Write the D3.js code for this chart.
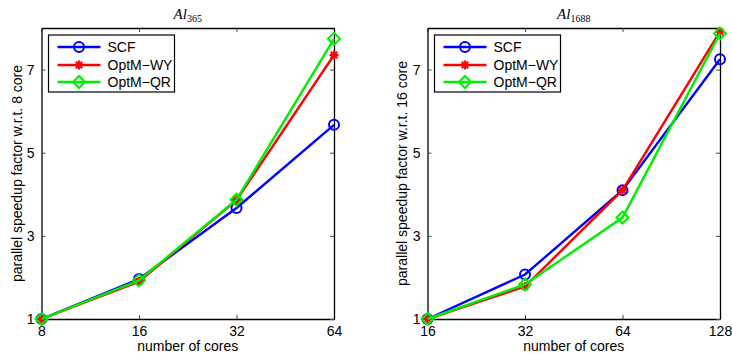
<!DOCTYPE html>
<html>
<head>
<meta charset="utf-8">
<script src="https://cdn.jsdelivr.net/npm/d3@7"></script>
<style>
  body { margin: 0; background: #fff; }
  svg text { font-family: "Liberation Sans", Arial, sans-serif; }
</style>
</head>
<body>
<div id="main"></div>
<script>
// data
var seriesNames = ["SCF", "OptM\u2212WY", "OptM\u2212QR"];
var seriesColors = ["#0000ff", "#ff0000", "#00ee00"];

var coresLeft = [8, 16, 32, 64];
var scfLeft = [1, 1.96, 3.67, 5.67];
var wyLeft = [1, 1.90, 3.86, 7.35];
var qrLeft = [1, 1.93, 3.87, 7.74];

var coresRight = [16, 32, 64, 128];
var scfRight = [1, 2.07, 4.10, 7.25];
var wyRight = [1, 1.78, 4.10, 7.91];
var qrRight = [1, 1.83, 3.44, 7.87];

var yTicks = [1, 3, 5, 7];

var width = 732, height = 354;
var svg = d3.select("#main").append("svg")
    .attr("width", width)
    .attr("height", height);

function drawPanel(opts) {
    var x = d3.scaleLog().base(2)
        .domain([opts.cores[0], opts.cores[opts.cores.length - 1]])
        .range([opts.left, opts.right]);
    var y = d3.scaleLinear()
        .domain([1, 8])
        .range([319, 28]);

    var g = svg.append("g");

    // axes, matlab style: ticks pointing inward on all sides
    g.append("g")
        .attr("transform", "translate(0,319)")
        .call(d3.axisBottom(x).tickValues(opts.cores).tickFormat(d3.format("d")).tickSizeInner(-4).tickSizeOuter(0).tickPadding(7));
    g.append("g")
        .attr("transform", "translate(0,28)")
        .call(d3.axisTop(x).tickValues(opts.cores).tickFormat("").tickSizeInner(-4).tickSizeOuter(0));
    g.append("g")
        .attr("transform", "translate(" + opts.left + ",0)")
        .call(d3.axisLeft(y).tickValues(yTicks).tickFormat(d3.format("d")).tickSizeInner(-4).tickSizeOuter(0).tickPadding(7));
    g.append("g")
        .attr("transform", "translate(" + opts.right + ",0)")
        .call(d3.axisRight(y).tickValues(yTicks).tickFormat("").tickSizeInner(-4).tickSizeOuter(0));

    g.selectAll(".domain").attr("stroke", "#000").attr("stroke-width", 1.3);
    g.selectAll(".tick line").attr("stroke", "#444");
    g.selectAll(".tick text").attr("font-size", 14).attr("fill", "#000")
        .attr("font-family", "Liberation Sans, Arial, sans-serif");

    // title
    var t = g.append("text")
        .attr("x", (opts.left + opts.right) / 2)
        .attr("y", 19)
        .attr("text-anchor", "middle")
        .style("font-family", "Liberation Serif, Times New Roman, serif");
    t.append("tspan").attr("font-style", "italic").attr("font-size", 15).text("Al");
    t.append("tspan").attr("font-size", 10).attr("dy", 3).text(opts.sub);

    // axis labels
    g.append("text")
        .attr("x", (opts.left + opts.right) / 2)
        .attr("y", 351)
        .attr("text-anchor", "middle")
        .attr("font-size", 14)
        .text("number of cores");
    g.append("text")
        .attr("transform", "translate(" + (opts.left - opts.ylabelGap) + "," + ((28 + 319) / 2) + ") rotate(-90)")
        .attr("text-anchor", "middle")
        .attr("font-size", 14)
        .text(opts.ylabel);

    var line = d3.line()
        .x(function (d) { return x(d[0]); })
        .y(function (d) { return y(d[1]); });

    opts.series.forEach(function (vals, si) {
        var pts = opts.cores.map(function (c, i) { return [c, vals[i]]; });
        g.append("path")
            .datum(pts)
            .attr("fill", "none")
            .attr("stroke", seriesColors[si])
            .attr("stroke-width", 2.4)
            .attr("d", line);
        pts.forEach(function (p) {
            drawMarker(g, si, x(p[0]), y(p[1]));
        });
    });

    // legend
    var lx = opts.left + 7, ly = 35;
    g.append("rect")
        .attr("x", lx).attr("y", ly)
        .attr("width", 126).attr("height", 57)
        .attr("fill", "#fff").attr("stroke", "#000").attr("stroke-width", 1.2);
    var rowsY = [47, 65, 82];
    seriesNames.forEach(function (name, si) {
        g.append("line")
            .attr("x1", lx + 9).attr("x2", lx + 52)
            .attr("y1", rowsY[si]).attr("y2", rowsY[si])
            .attr("stroke", seriesColors[si]).attr("stroke-width", 2.4);
        drawMarker(g, si, lx + 30.5, rowsY[si]);
        g.append("text")
            .attr("x", lx + 59).attr("y", rowsY[si] + 5)
            .attr("font-size", 14)
            .text(name);
    });
}

function drawMarker(g, si, cx, cy) {
    var c = seriesColors[si];
    if (si === 0) {
        g.append("circle").attr("cx", cx).attr("cy", cy).attr("r", 5)
            .attr("fill", "none").attr("stroke", c).attr("stroke-width", 2);
    } else if (si === 1) {
        var s = 4.5;
        [0, 45, 90, 135].forEach(function (a) {
            var r = a * Math.PI / 180;
            g.append("line")
                .attr("x1", cx - s * Math.cos(r)).attr("y1", cy - s * Math.sin(r))
                .attr("x2", cx + s * Math.cos(r)).attr("y2", cy + s * Math.sin(r))
                .attr("stroke", c).attr("stroke-width", 2.2);
        });
    } else {
        var d = 6;
        g.append("path")
            .attr("d", "M" + cx + "," + (cy - d) + "L" + (cx + d) + "," + cy + "L" + cx + "," + (cy + d) + "L" + (cx - d) + "," + cy + "Z")
            .attr("fill", "none").attr("stroke", c).attr("stroke-width", 2);
    }
}

drawPanel({
    left: 41.5, right: 334, cores: coresLeft, sub: "365", ylabelGap: 19.5,
    ylabel: "parallel speedup factor w.r.t. 8 core",
    series: [scfLeft, wyLeft, qrLeft]
});
drawPanel({
    left: 427.5, right: 720, cores: coresRight, sub: "1688", ylabelGap: 20.5,
    ylabel: "parallel speedup factor w.r.t. 16 core",
    series: [scfRight, wyRight, qrRight]
});
</script>
</body>
</html>
